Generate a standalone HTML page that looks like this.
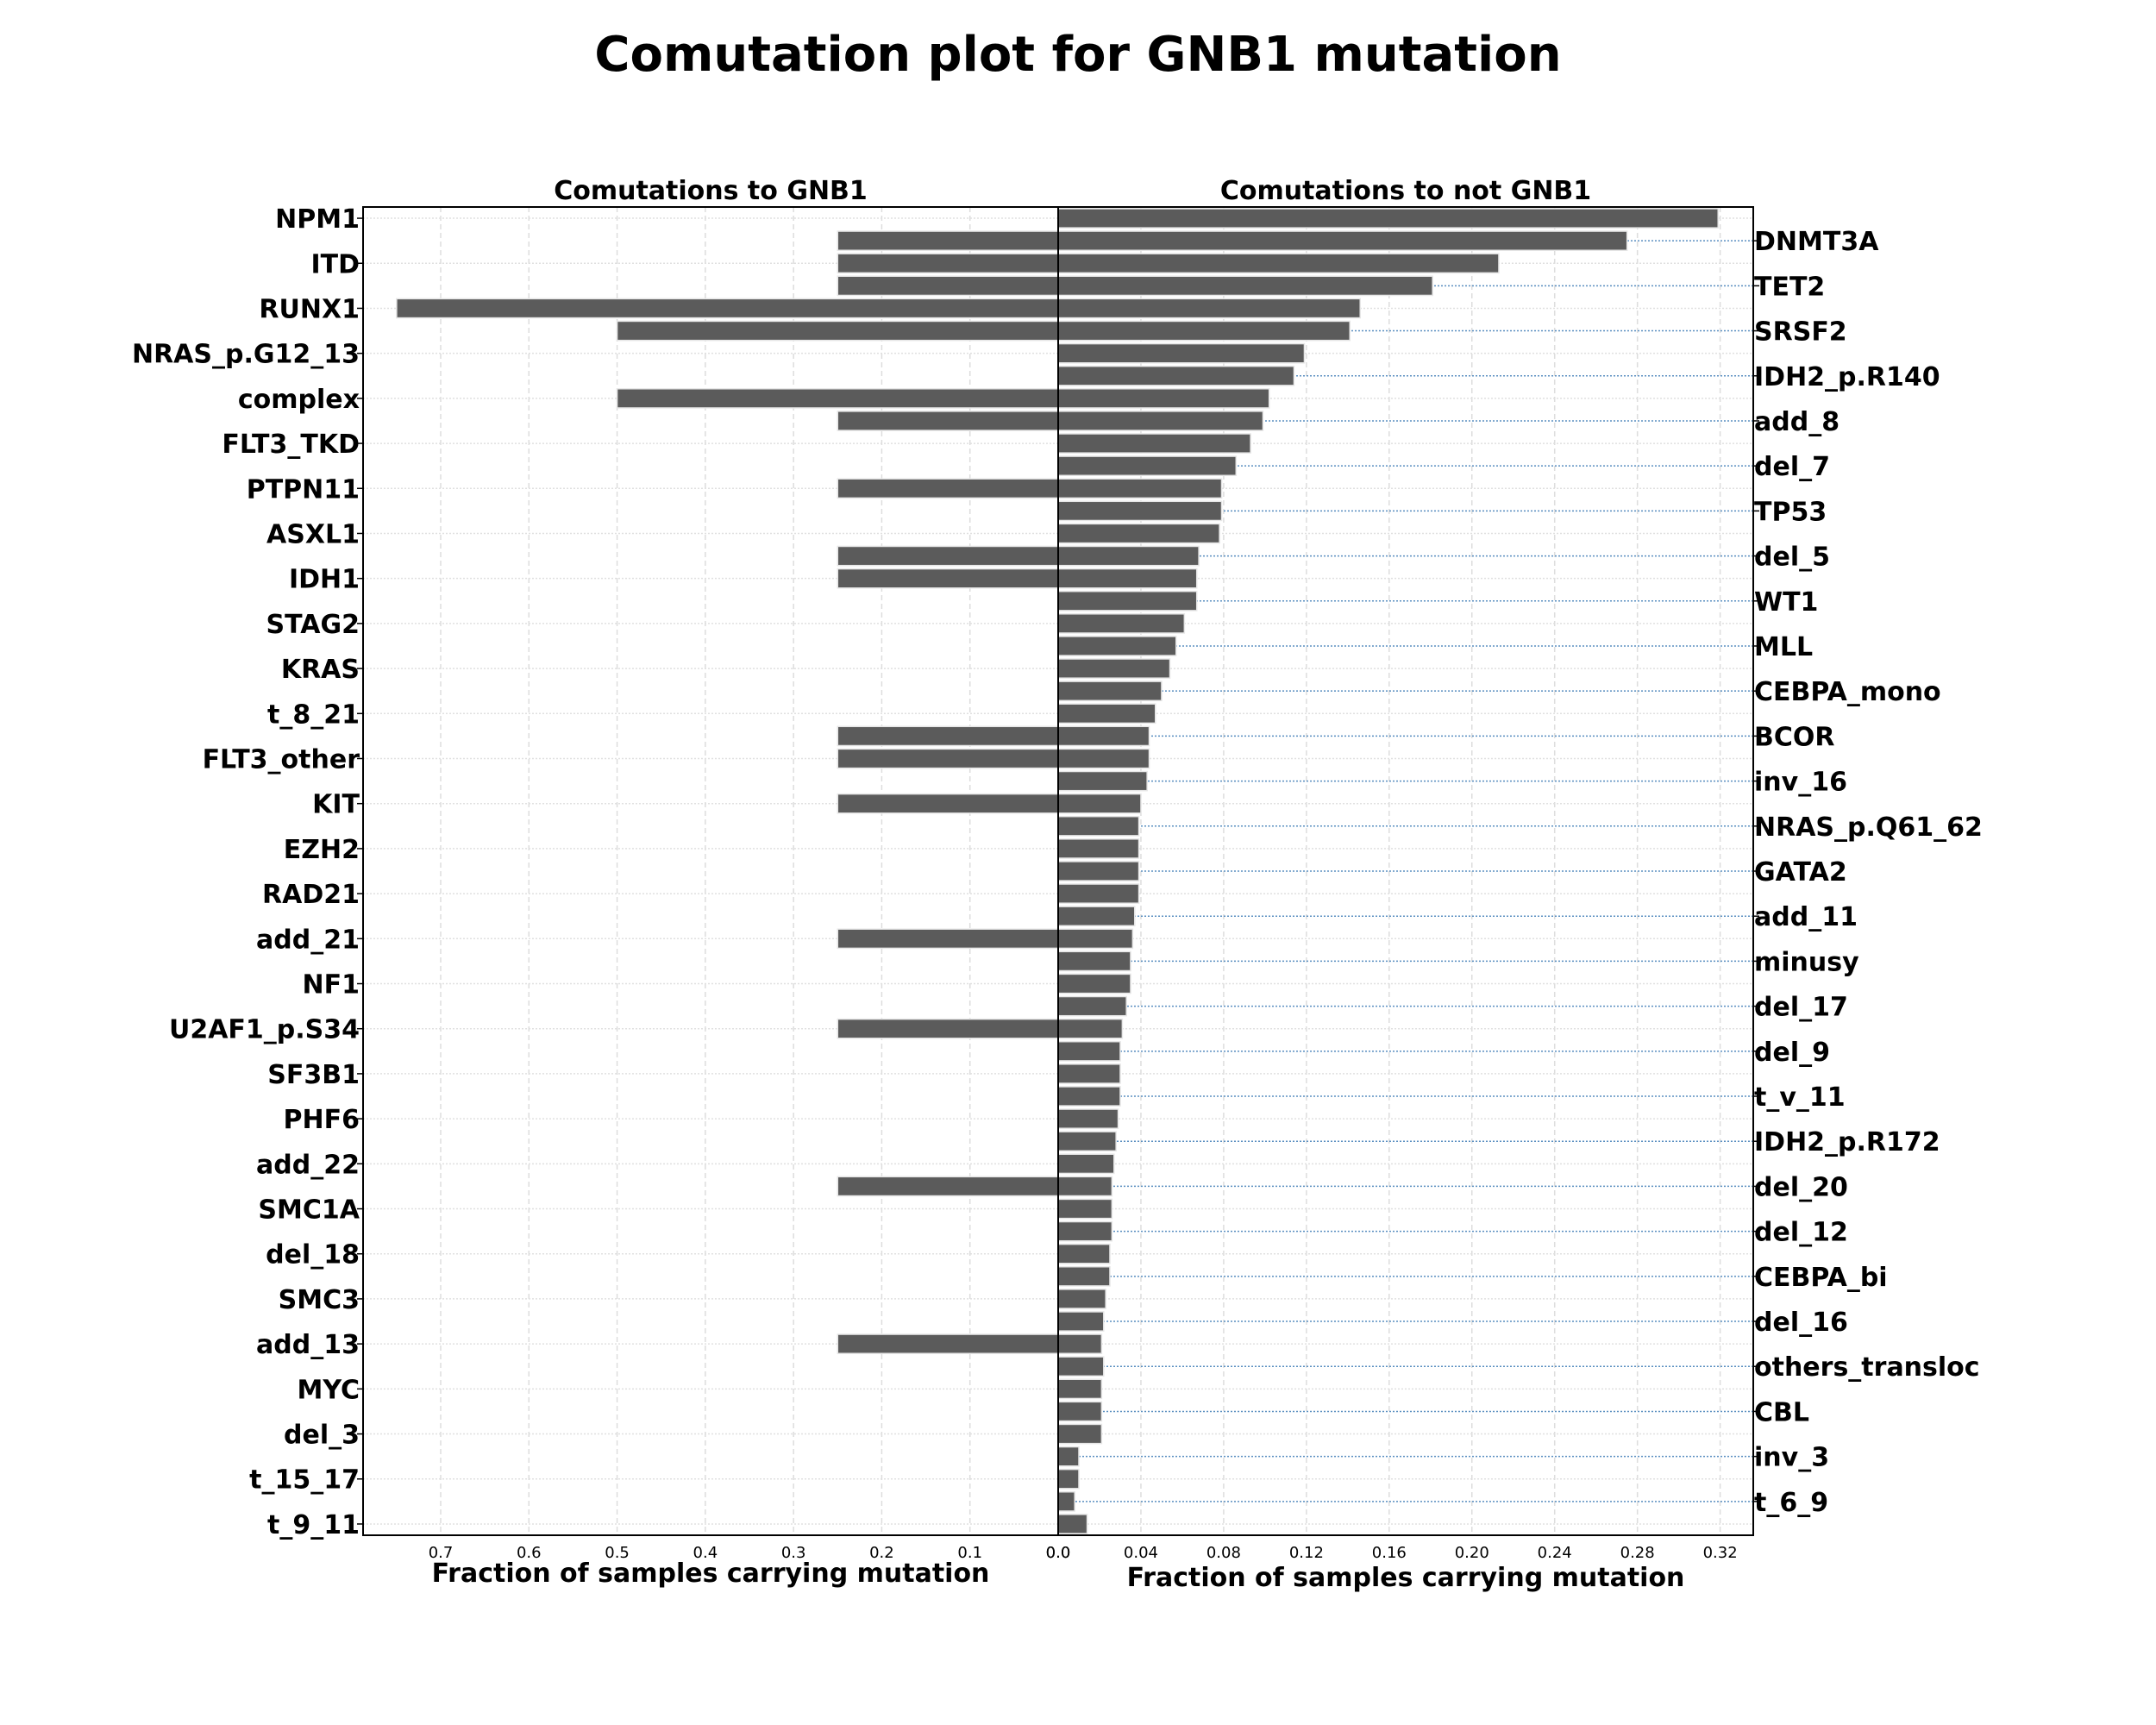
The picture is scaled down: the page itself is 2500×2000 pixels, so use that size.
<!DOCTYPE html>
<html><head><meta charset="utf-8"><style>
html,body{margin:0;padding:0;background:#fff;}
svg{display:block;font-family:"DejaVu Sans","Liberation Sans",sans-serif;}
</style></head><body>
<svg id="chart" width="2500" height="2000" viewBox="0 0 2500 2000">
<text x="1250" y="82" text-anchor="middle" font-size="56" font-weight="bold">Comutation plot for GNB1 mutation</text>
<text x="824" y="231" text-anchor="middle" font-size="30" font-weight="bold">Comutations to GNB1</text>
<text x="1630" y="231" text-anchor="middle" font-size="30" font-weight="bold">Comutations to not GNB1</text>
<text x="824" y="1834" text-anchor="middle" font-size="30" font-weight="bold">Fraction of samples carrying mutation</text>
<text x="1630" y="1839" text-anchor="middle" font-size="30" font-weight="bold">Fraction of samples carrying mutation</text>
<g id="plot"></g>
</svg>
<script>
const genes = ["NPM1","DNMT3A","ITD","TET2","RUNX1","SRSF2","NRAS_p.G12_13","IDH2_p.R140","complex","add_8","FLT3_TKD","del_7","PTPN11","TP53","ASXL1","del_5","IDH1","WT1","STAG2","MLL","KRAS","CEBPA_mono","t_8_21","BCOR","FLT3_other","inv_16","KIT","NRAS_p.Q61_62","EZH2","GATA2","RAD21","add_11","add_21","minusy","NF1","del_17","U2AF1_p.S34","del_9","SF3B1","t_v_11","PHF6","IDH2_p.R172","add_22","del_20","SMC1A","del_12","del_18","CEBPA_bi","SMC3","del_16","add_13","others_transloc","MYC","CBL","del_3","inv_3","t_15_17","t_6_9","t_9_11"];
const withGNB1 = [0,0.25,0.25,0.25,0.75,0.5,0,0,0.5,0.25,0,0,0.25,0,0,0.25,0.25,0,0,0,0,0,0,0.25,0.25,0,0.25,0,0,0,0,0,0.25,0,0,0,0.25,0,0,0,0,0,0,0.25,0,0,0,0,0,0,0.25,0,0,0,0,0,0,0,0];
const withoutGNB1 = [0.319,0.275,0.213,0.181,0.146,0.141,0.119,0.114,0.102,0.099,0.093,0.086,0.079,0.079,0.078,0.068,0.067,0.067,0.061,0.057,0.054,0.050,0.047,0.044,0.044,0.043,0.040,0.039,0.039,0.039,0.039,0.037,0.036,0.035,0.035,0.033,0.031,0.030,0.030,0.030,0.029,0.028,0.027,0.026,0.026,0.026,0.025,0.025,0.023,0.022,0.021,0.022,0.021,0.021,0.021,0.010,0.010,0.008,0.014];
const leftTicks = ["0.7","0.6","0.5","0.4","0.3","0.2","0.1","0.0"];
const rightTicks = ["0.0","0.04","0.08","0.12","0.16","0.20","0.24","0.28","0.32"];

const NS="http://www.w3.org/2000/svg";
const g=document.getElementById('plot');
const X0=1227, LX=421, RX=2033, TOP=240, BOT=1780;
const lMax=0.788, rMax=0.336;
const xl=v=>X0-(v/lMax)*(X0-LX);
const xr=v=>X0+(v/rMax)*(RX-X0);
const rowH=(BOT-TOP)/genes.length;
const yc=i=>TOP+(i+0.5)*rowH;
function mk(t,a){const e=document.createElementNS(NS,t);for(const k in a)e.setAttribute(k,a[k]);g.appendChild(e);return e;}

leftTicks.forEach(t=>{const x=xl(parseFloat(t));
  const l=mk('line',{x1:x,x2:x,y1:TOP,y2:BOT,stroke:'#dddddd','stroke-width':1.5,'stroke-dasharray':'6,4'});
  
  
  const tx=mk('text',{x:x,y:BOT+26,'text-anchor':'middle','font-size':18});
  tx.textContent=t;
  
  
});
rightTicks.forEach(t=>{const x=xr(parseFloat(t));
  const l=mk('line',{x1:x,x2:x,y1:TOP,y2:BOT,stroke:'#dddddd','stroke-width':1.5,'stroke-dasharray':'6,4'});
  
  
  const tx=mk('text',{x:x,y:BOT+26,'text-anchor':'middle','font-size':18});
  tx.textContent=t;
  
  
});
genes.forEach((gname,i)=>{
  const y=yc(i);
  if(i%2===0){
    const l=mk('line',{x1:LX,x2:RX,y1:y,y2:y,stroke:'#e0e0e0','stroke-width':1.5,'stroke-dasharray':'2,2'});
    
    
    mk('line',{x1:LX-7,x2:LX,y1:y,y2:y,stroke:'#000','stroke-width':1.5});
    const t=mk('text',{x:LX-4,y:y+11,'text-anchor':'end','font-size':30,'font-weight':'bold'});
    t.textContent=gname;
    
    
  } else {
    const l=mk('line',{x1:X0,x2:RX,y1:y,y2:y,stroke:'#5a8fc0','stroke-width':1.5,'stroke-dasharray':'2,2'});
    
    
    mk('line',{x1:RX,x2:RX+7,y1:y,y2:y,stroke:'#000','stroke-width':1.5});
    const t=mk('text',{x:RX+1,y:y+11,'text-anchor':'start','font-size':30,'font-weight':'bold'});
    t.textContent=gname;
    
    
  }
});
const bh=rowH*0.85;
genes.forEach((gname,i)=>{
  const y=yc(i)-bh/2;
  if(withGNB1[i]>0){
    const b=mk('rect',{x:xl(withGNB1[i]),y:y,width:X0-xl(withGNB1[i]),height:bh,fill:'#5b5b5b',stroke:'#e6e6e6','stroke-width':1.5});
    
    
  }
  const b2=mk('rect',{x:X0,y:y,width:xr(withoutGNB1[i])-X0,height:bh,fill:'#5b5b5b',stroke:'#e6e6e6','stroke-width':1.5});
  
  
});
const f1=mk('rect',{x:LX,y:TOP,width:X0-LX,height:BOT-TOP,fill:'none',stroke:'#000','stroke-width':2});


const f2=mk('rect',{x:X0,y:TOP,width:RX-X0,height:BOT-TOP,fill:'none',stroke:'#000','stroke-width':2});


</script>
</body></html>
